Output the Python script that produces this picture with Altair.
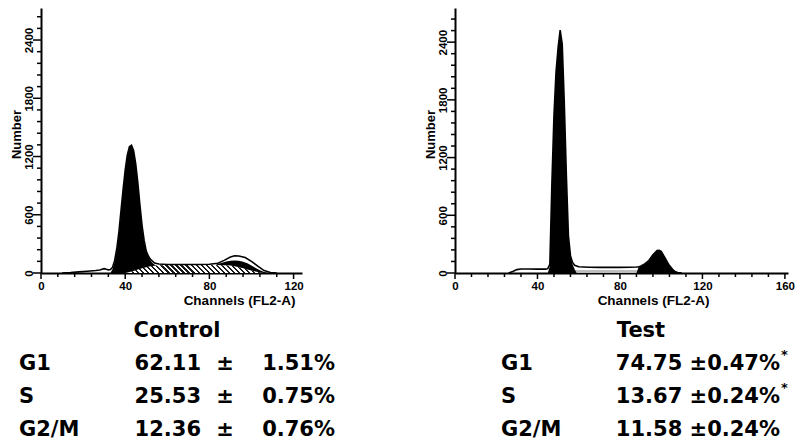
import altair as alt
import pandas as pd

# ---------------- Control histogram (channel, count) ----------------
ctrl_raw_ch = [10, 14, 18, 22, 26, 28, 29, 30, 31, 32, 33, 34, 35, 36, 37, 38, 39, 40, 41, 42, 43, 44, 45, 46, 47,
               48, 49, 50, 51, 52, 54, 56, 60, 65, 70, 75, 80, 84, 87, 90, 92, 94, 97, 100, 103, 106, 109, 112]
ctrl_raw_n = [0, 5, 12, 18, 25, 30, 38, 45, 38, 32, 35, 60, 130, 250, 420, 640, 860, 1060, 1215, 1300, 1315, 1260,
              1125, 930, 700, 490, 335, 225, 175, 140, 102, 92, 88, 88, 88, 88, 90, 100, 130, 165, 178, 175, 160,
              120, 70, 25, 5, 0]
# G1 band (stacked on top of the S-phase fit)
ctrl_g1_ch = [33, 34, 35, 36, 37, 38, 39, 40, 41, 42, 43, 44, 45, 46, 47, 48, 49, 50, 51, 52, 53, 54, 55]
ctrl_g1_lo = [0, 0, 0, 0, 0, 0, 0, 0, 5, 10, 15, 20, 28, 35, 42, 50, 55, 60, 65, 70, 72, 75, 77]
ctrl_g1_hi = [0, 40, 110, 230, 400, 620, 850, 1050, 1205, 1295, 1310, 1255, 1118, 925, 692, 480, 325, 220, 165,
              130, 102, 85, 77]
# S phase (hatched)
ctrl_s_ch = [40, 44, 48, 52, 56, 60, 70, 80, 88, 92, 96, 98, 100, 104, 106]
ctrl_s_n = [0, 20, 50, 70, 80, 82, 83, 83, 80, 70, 50, 37, 25, 5, 0]
# G2/M band (stacked on top of the S-phase fit)
ctrl_g2_ch = [83, 84, 86, 88, 90, 92, 94, 96, 98, 100, 102, 104, 106, 108]
ctrl_g2_lo = [82, 82, 81, 80, 76, 70, 60, 50, 37, 25, 15, 5, 0, 0]
ctrl_g2_hi = [82, 92, 105, 118, 126, 128, 125, 116, 100, 78, 52, 28, 10, 0]

# ---------------- Test histogram (channel, count) ----------------
test_raw_ch = [26, 28, 30, 32, 36, 40, 44, 45, 46, 47, 48, 49, 50, 51, 52, 53, 54, 55, 56, 57, 58, 60, 65, 70, 75,
               80, 85, 88, 89, 90, 92, 94, 96, 98, 99, 100, 102, 103, 104, 106, 107, 108, 110]
test_raw_n = [0, 15, 35, 42, 42, 40, 40, 45, 90, 940, 1640, 2090, 2340, 2525, 2380, 1770, 1020, 390, 180, 110, 80,
              65, 60, 58, 58, 58, 60, 62, 64, 70, 94, 130, 190, 234, 236, 224, 152, 112, 77, 27, 12, 4, 0]
test_g1_ch = [45, 46, 47, 48, 49, 50, 51, 52, 53, 54, 55, 56, 57, 58, 59]
test_g1_lo = [0, 0, 0, 0, 0, 0, 0, 0, 0, 0, 0, 0, 0, 0, 0]
test_g1_hi = [0, 70, 930, 1630, 2080, 2330, 2515, 2370, 1760, 1010, 380, 170, 90, 40, 0]
test_s_ch = [55, 57, 60, 70, 80, 90, 93, 96]
test_s_n = [0, 28, 30, 30, 30, 30, 18, 0]
test_g2_ch = [88, 89, 90, 92, 94, 96, 98, 99, 100, 102, 103, 104, 106, 107, 108]
test_g2_lo = [0, 0, 0, 0, 0, 0, 0, 0, 0, 0, 0, 0, 0, 0, 0]
test_g2_hi = [0, 58, 65, 90, 126, 186, 230, 232, 220, 148, 108, 73, 23, 8, 0]

# ---------------- Axis tick values ----------------
y_major = [0, 600, 1200, 1800, 2400]
y_minor = [120, 240, 360, 480, 720, 840, 960, 1080, 1320, 1440, 1560, 1680, 1920, 2040, 2160, 2280,
           2520, 2640]
ctrl_x_major = [0, 40, 80, 120]
test_x_major = [0, 40, 80, 120, 160]
ctrl_x_minor = [8, 16, 24, 32, 48, 56, 64, 72, 88, 96, 104, 112]
test_x_minor = [8, 16, 24, 32, 48, 56, 64, 72, 88, 96, 104, 112, 128, 136, 144, 152]

# ---------------- Summary tables ----------------
rows = ["head", "G1", "S", "G2/M"]
ctrl_head = ["Control", "", "", ""]
ctrl_labels = ["", "G1", "\u00a0S", "G2/M"]
ctrl_mean = ["", "62.11", "25.53", "12.36"]
ctrl_pm = ["", "\u00b1", "\u00b1", "\u00b1"]
ctrl_sd = ["", "1.51%", "0.75%", "0.76%"]
test_head = ["Test", "", "", ""]
test_labels = ["", "G1", "S", "G2/M"]
test_stat = ["", "74.75 \u00b10.47%", "13.67 \u00b10.24%", "11.58 \u00b10.24%"]
test_sig = ["", "*", "*", ""]

AX_FONT = "Liberation Sans"
TX_FONT = "DejaVu Sans"
TX_SIZE = 21


def hatch_fill(slope):
    stops = []
    period = 0.036
    k = 0
    while (k + 1) * period <= 1.0:
        a = k * period
        b = a + 0.42 * period
        stops += [{"offset": a, "color": "white"}, {"offset": a, "color": "#1a1a1a"},
                  {"offset": b, "color": "#1a1a1a"}, {"offset": b, "color": "white"}]
        k += 1
    return {"gradient": "linear", "x1": 0, "y1": slope, "x2": 1, "y2": 0, "stops": stops}


def hist(raw, g1, s, g2, xmax, x_major, x_minor, ymax, w, h, s_fill):
    lab_common = dict(labelFont=AX_FONT, labelFontWeight="bold", labelFontSize=11.5, labelColor="black",
                      labelFlush=False, labelOverlap=False, grid=False, tickOpacity=0)
    x_ax = alt.Axis(
        orient="bottom", values=x_major, format="d", tickSize=6, domainColor="black", domainWidth=2,
        labelPadding=1, title="Channels (FL2-A)", titleFont=AX_FONT, titleFontSize=13.5,
        titleFontWeight="bold", titleColor="black", titleX=198, titleY=27, titleAlign="center",
        titleBaseline="middle", **lab_common,
    )
    y_ax = alt.Axis(
        orient="left", values=y_major, format="d", tickSize=7, domainColor="black", domainWidth=2,
        labelAngle=270, labelPadding=0, title="Number", titleFont=AX_FONT, titleFontSize=13,
        titleFontWeight="bold", titleColor="black", titlePadding=0, titleY=126, **lab_common,
    )
    xs = alt.Scale(domain=[0, xmax], nice=False, zero=False)
    ys = alt.Scale(domain=[0, ymax], nice=False)

    def df(c, n):
        return pd.DataFrame({"ch": c, "n": n})

    def band(c, lo, hi):
        return alt.Chart(pd.DataFrame({"ch": c, "lo": lo, "hi": hi})).mark_area(
            color="black", interpolate="linear").encode(
            x=alt.X("ch:Q", scale=xs, axis=None), y=alt.Y("hi:Q", scale=ys, axis=None), y2="lo:Q")

    s_area = alt.Chart(df(*s)).mark_area(fill=s_fill, interpolate="linear").encode(
        x=alt.X("ch:Q", scale=xs, axis=None), y=alt.Y("n:Q", scale=ys, axis=None))
    raw_line = alt.Chart(df(*raw)).mark_line(color="black", strokeWidth=1.6).encode(
        x=alt.X("ch:Q", scale=xs, axis=x_ax), y=alt.Y("n:Q", scale=ys, axis=y_ax))

    def xticks(vals, length):
        return alt.Chart(pd.DataFrame({"v": vals})).mark_rule(color="black", strokeWidth=1.5).encode(
            x=alt.X("v:Q", scale=xs, axis=None), y=alt.value(h), y2=alt.value(h + length))

    def yticks(vals, length):
        return alt.Chart(pd.DataFrame({"v": vals})).mark_rule(color="black", strokeWidth=1.5).encode(
            y=alt.Y("v:Q", scale=ys, axis=None), x=alt.value(0), x2=alt.value(-length))

    return (
        alt.layer(s_area, band(*g1), band(*g2), raw_line,
                  xticks(x_minor, 4), xticks(x_major, 6), yticks(y_minor, 4), yticks(y_major, 8))
        .resolve_axis(x="independent", y="independent")
        .properties(width=w, height=h)
    )


def text_layer(df, field, x, align, size=TX_SIZE, dy=0):
    return alt.Chart(df).transform_filter(f"datum['{field}'] != ''").mark_text(
        align=align, baseline="middle", font=TX_FONT, fontWeight="bold", fontSize=size,
        color="black", dy=dy,
    ).encode(
        y=alt.Y("row:N", scale=alt.Scale(domain=rows, padding=0), axis=None),
        x=alt.value(x),
        text=alt.Text(f"{field}:N"),
    )


ctrl_df = pd.DataFrame({"row": rows, "head": ctrl_head, "label": ctrl_labels, "mean": ctrl_mean,
                        "pm": ctrl_pm, "sd": ctrl_sd})
test_df = pd.DataFrame({"row": rows, "head": test_head, "label": test_labels, "stat": test_stat,
                        "sig": test_sig})

ctrl_table = alt.layer(
    text_layer(ctrl_df, "head", 136, "center"),
    text_layer(ctrl_df, "label", -22, "left"),
    text_layer(ctrl_df, "mean", 160, "right"),
    text_layer(ctrl_df, "pm", 184, "center"),
    text_layer(ctrl_df, "sd", 294, "right"),
).properties(width=261, height=99)

test_table = alt.layer(
    text_layer(test_df, "head", 186, "center"),
    text_layer(test_df, "label", 46, "left"),
    text_layer(test_df, "stat", 325, "right"),
    text_layer(test_df, "sig", 326, "left", size=13, dy=-9),
).properties(width=333, height=99)

left = alt.vconcat(
    hist((ctrl_raw_ch, ctrl_raw_n), (ctrl_g1_ch, ctrl_g1_lo, ctrl_g1_hi), (ctrl_s_ch, ctrl_s_n),
         (ctrl_g2_ch, ctrl_g2_lo, ctrl_g2_hi), 124, ctrl_x_major, ctrl_x_minor, 2730, 261, 265,
         hatch_fill(0.058)),
    ctrl_table, spacing=13,
)
right = alt.vconcat(
    hist((test_raw_ch, test_raw_n), (test_g1_ch, test_g1_lo, test_g1_hi), (test_s_ch, test_s_n),
         (test_g2_ch, test_g2_lo, test_g2_hi), 161.5, test_x_major, test_x_minor, 2755, 333, 265, "#bdbdbd"),
    test_table, spacing=13,
)

chart = (
    alt.hconcat(left, right, spacing=89)
    .properties(padding={"left": 2, "top": 0, "right": 0, "bottom": 0})
    .configure_view(stroke=None)
)

chart.save("out.html", embed_options={"renderer": "svg", "actions": False})
